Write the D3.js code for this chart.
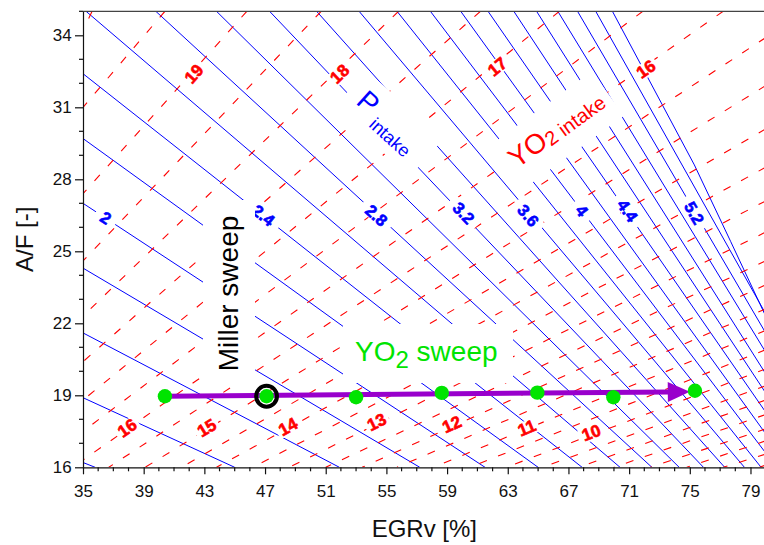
<!DOCTYPE html>
<html><head><meta charset="utf-8">
<script src="https://cdn.jsdelivr.net/npm/d3@7"></script>
<style>
html,body{margin:0;padding:0;background:#fff;}
svg{display:block;font-family:"Liberation Sans",Arial,sans-serif;}
</style></head><body>
<svg id="chart" width="764" height="545"></svg>
<script>
// ---------- data ----------
const egrTicks = [35,39,43,47,51,55,59,63,67,71,75,79];
const afTicks  = [16,19,22,25,28,31,34];

// P intake contours (solid blue), each line as [EGRv, A/F] points
const pLevels = [1.2,1.4,1.6,1.8,2.0,2.2,2.4,2.6,2.8,3.0,3.2,3.4,3.6,3.8,4.0,4.2,4.4,4.6,4.8,5.0,5.2,5.4,5.6];
const pLines = [
  [[35,16.2],[35.8,16]],
  [[35,18.9],[45.0,16]],
  [[35,21.6],[51.9,16]],
  [[35,24.3],[57.2,16]],
  [[35,27.0],[61.5,16]],
  [[35,29.7],[65.0,16]],
  [[35,32.4],[67.9,16]],
  [[35.2,35],[70.4,16]],
  [[39.8,35],[72.5,16]],
  [[43.8,35],[74.3,16]],
  [[47.3,35],[75.9,16]],
  [[50.4,35],[77.3,16]],
  [[53.2,35],[78.6,16]],
  [[55.7,35],[79.7,16]],
  [[57.9,35],[80,16.6]],
  [[59.9,35],[80,17.4]],
  [[61.7,35],[80,18.3]],
  [[63.4,35],[80,19.1]],
  [[64.9,35],[80,19.9]],
  [[66.3,35],[80,20.8]],
  [[67.6,35],[80,21.6]],
  [[68.8,35],[80,22.4]],
  [[69.9,35],[75.3,28.6],[77.7,25.4],[80,22.3]]
];
const pLabelText = ["2","2.4","2.8","3.2","3.6","4","4.4","5.2"];
const pLabelLevel = [2.0,2.4,2.8,3.2,3.6,4.0,4.4,5.2];
const pLabelPos = [[36.5,26.4],[46.9,26.5],[54.35,26.5],[60.1,26.6],[64.35,26.5],[67.9,26.7],[70.9,26.7],[75.3,26.6]];

// YO2 intake contours (dashed red), each line from upper/right end to lower/left end
const yLevels = [20,19.5,19,18.5,18,17.5,17,16.5,16,15.5,15,14.5,14,13.5,13,12.5,12,11.5,11,10.5,10,9.5,9,8.5,8,7.5,7,6.5];
const yLines = [
  [[35.6,35],[35,34.2]],
  [[40.4,35],[35,31.0]],
  [[45.8,35],[35,27.4]],
  [[50.7,35],[35,24.6]],
  [[55.8,35],[35,22.3]],
  [[61.2,35],[35,20.4]],
  [[66.4,35],[35,18.8]],
  [[71.9,35],[35,17.5]],
  [[77.2,35],[35,16.3]],
  [[80,33.9],[36.7,16]],
  [[80,31.9],[39.1,16]],
  [[80,30.1],[41.5,16]],
  [[80,28.5],[43.8,16]],
  [[80,27.1],[46.2,16]],
  [[80,25.8],[48.6,16]],
  [[80,24.6],[51.0,16]],
  [[80,23.6],[53.4,16]],
  [[80,22.6],[55.7,16]],
  [[80,21.7],[58.1,16]],
  [[80,20.9],[60.5,16]],
  [[80,20.1],[62.9,16]],
  [[80,19.4],[65.3,16]],
  [[80,18.8],[67.7,16]],
  [[80,18.2],[70.0,16]],
  [[80,17.6],[72.4,16]],
  [[80,17.1],[74.8,16]],
  [[80,16.55],[77.2,16]],
  [[80,16.1],[79.6,16]]
];
const yLabelText  = ["19","18","17","16","16","15","14","13","12","11","10"];
const yLabelLevel = [19,18,17,16,16,15,14,13,12,11,10];
const yLabelPos = [[42.3,32.4],[51.9,32.4],[62.3,32.7],[72.1,32.6],
                   [37.9,17.65],[43.15,17.65],[48.5,17.7],[54.35,17.9],[59.3,17.8],[64.25,17.65],[68.5,17.45]];

// sweep points
const sweepEGR = [40.4,47.1,53.0,58.65,64.95,69.96,75.34];
const sweepAF  = [18.96,18.96,18.92,19.1,19.11,18.92,19.19];
const millerPoint = [47.1,18.96];
const arrowStart = [40.4,18.96];
const arrowEnd   = [75.0,19.15];

// ---------- drawing ----------
const svg = d3.select("#chart");
const L = 83, R = 765.65, T = 11.3, B = 467.3;
const x = d3.scaleLinear().domain([35,80]).range([L,R]);
const y = d3.scaleLinear().domain([16,35]).range([B,T]);
const BLUE = "#0000ff", RED = "#ff0000", GREEN = "#00e400", PURPLE = "#9900cc";

svg.append("defs").append("clipPath").attr("id","plotclip")
  .append("rect").attr("x",L).attr("y",T).attr("width",R-L).attr("height",B-T);

const plot = svg.append("g").attr("clip-path","url(#plotclip)");
const line = d3.line().x(d=>x(d[0])).y(d=>y(d[1]));

plot.append("g").selectAll("path").data(pLines).join("path")
  .attr("d", line).attr("fill","none").attr("stroke",BLUE).attr("stroke-width",1);

plot.append("g").selectAll("path").data(yLines).join("path")
  .attr("d", line).attr("fill","none").attr("stroke",RED).attr("stroke-width",1.1)
  .attr("stroke-dasharray","8,12");

// angle helper in screen space
function angleOf(pts){
  const a = pts[0], b = pts[pts.length-1];
  let dx = x(b[0])-x(a[0]), dy = y(b[1])-y(a[1]);
  if (dx < 0){ dx = -dx; dy = -dy; }
  return Math.atan2(dy,dx)*180/Math.PI;
}

function contourLabel(txt, pos, ang, color, size, padA, padP){
  const g = plot.append("g").attr("transform",`translate(${x(pos[0])},${y(pos[1])}) rotate(${ang})`);
  const t = g.append("text").text(txt).attr("text-anchor","middle").attr("dy","0.36em")
    .attr("font-size",size).attr("font-weight","bold").attr("fill",color)
    .attr("stroke",color).attr("stroke-width",0.6);
  const bb = t.node().getBBox();
  g.insert("rect","text").attr("x",bb.x-padA).attr("y",bb.y+padP).attr("width",bb.width+2*padA)
    .attr("height",bb.height-2*padP).attr("fill","#fff");
}

pLabelText.forEach((t,i)=>{
  const idx = pLevels.indexOf(pLabelLevel[i]);
  contourLabel(t, pLabelPos[i], angleOf(pLines[idx]), BLUE, 16.5, 7, 2);
});
yLabelText.forEach((t,i)=>{
  const idx = yLevels.indexOf(yLabelLevel[i]);
  contourLabel(t, yLabelPos[i], angleOf(yLines[idx]), RED, 17, 3, 2);
});

// big annotation labels with white boxes
// Miller sweep
plot.append("rect").attr("x",203).attr("y",200).attr("width",52).attr("height",186).attr("fill","#fff");
plot.append("text").attr("transform","translate(238,371.3) rotate(-90)")
  .attr("font-size",28).attr("fill","#000").text("Miller sweep");

// YO2 sweep
plot.append("rect").attr("x",343).attr("y",324).attr("width",170).attr("height",59).attr("fill","#fff");
const ys = plot.append("text").attr("x",355).attr("y",361).attr("font-size",28).attr("fill",GREEN);
ys.append("tspan").text("YO");
ys.append("tspan").attr("font-size",24).attr("dy",7).text("2");
ys.append("tspan").attr("dy",-7).text(" sweep");

// P intake
const pg = plot.append("g").attr("transform","translate(355,103) rotate(42)");
pg.append("rect").attr("x",-13).attr("y",-32).attr("width",103).attr("height",50).attr("fill","#fff");
const pt = pg.append("text").attr("fill",BLUE);
pt.append("tspan").attr("x",0).attr("y",0).attr("font-size",28).text("P");
pt.append("tspan").attr("x",25).attr("y",8.4).attr("font-size",18).text("intake");

// YO2 intake
const yg = plot.append("g").attr("transform","translate(517,169) rotate(-36)");
yg.append("rect").attr("x",-12).attr("y",-35).attr("width",130).attr("height",55).attr("fill","#fff");
const yt = yg.append("text").attr("fill",RED);
yt.append("tspan").attr("x",0).attr("y",0).attr("font-size",28).text("YO");
yt.append("tspan").attr("x",40.5).attr("y",2).attr("font-size",20).text("2 intake");

// arrow
const ax0 = x(arrowStart[0]), ay0 = y(arrowStart[1]);
const ax1 = x(arrowEnd[0]), ay1 = y(arrowEnd[1]);
const aang = Math.atan2(ay1-ay0, ax1-ax0);
const headL = 22, headW = 10;
const bx = ax1 - headL*Math.cos(aang), by = ay1 - headL*Math.sin(aang);
plot.append("line").attr("x1",ax0).attr("y1",ay0).attr("x2",bx+1).attr("y2",by)
  .attr("stroke",PURPLE).attr("stroke-width",5);
plot.append("path").attr("d",`M${ax1},${ay1}L${bx - headW*Math.sin(aang)},${by + headW*Math.cos(aang)}L${bx + headW*Math.sin(aang)},${by - headW*Math.cos(aang)}Z`)
  .attr("fill",PURPLE);

// sweep points
plot.append("g").selectAll("circle").data(sweepEGR).join("circle")
  .attr("cx",(d)=>x(d)).attr("cy",(d,i)=>y(sweepAF[i])).attr("r",7.2).attr("fill",GREEN);
plot.append("circle").attr("cx",x(millerPoint[0])).attr("cy",y(millerPoint[1])).attr("r",10.4)
  .attr("fill","none").attr("stroke","#000").attr("stroke-width",4);

// ---------- axes ----------
const frame = svg.append("g");
frame.append("line").attr("x1",L).attr("x2",R).attr("y1",T).attr("y2",T).attr("stroke","#444").attr("stroke-width",1.2);

const xAxis = d3.axisBottom(x).tickValues(egrTicks).tickSize(7).tickSizeOuter(0).tickPadding(10.7);
const gx = svg.append("g").attr("transform",`translate(0,${B})`).call(xAxis);
const yAxis = d3.axisLeft(y).tickValues(afTicks).tickSize(8).tickSizeOuter(0).tickPadding(3.3);
const gy = svg.append("g").attr("transform",`translate(${L},0)`).call(yAxis);
[gx,gy].forEach(g=>{
  g.select(".domain").attr("stroke","#111").attr("stroke-width",1.2);
  g.selectAll(".tick line").attr("stroke","#111").attr("stroke-width",1.2);
  g.selectAll(".tick text").attr("font-size",17).attr("fill","#111")
    .attr("font-family","'Liberation Sans',Arial,sans-serif");
});
gx.select(".domain").attr("d",`M${L},0.5H${R}`);
// minor ticks
const minorX = d3.range(35,81,1).filter(v=>!egrTicks.includes(v));
const minorY = d3.range(16,36,1).filter(v=>!afTicks.includes(v));
svg.append("g").selectAll("line").data(minorX).join("line")
  .attr("x1",d=>x(d)).attr("x2",d=>x(d)).attr("y1",B).attr("y2",B+4).attr("stroke","#111").attr("stroke-width",1.2);
svg.append("g").selectAll("line").data(minorY).join("line")
  .attr("y1",d=>y(d)).attr("y2",d=>y(d)).attr("x1",L).attr("x2",L-4).attr("stroke","#111").attr("stroke-width",1.2);

// axis titles
svg.append("text").attr("x",(L+R)/2).attr("y",536.5).attr("text-anchor","middle")
  .attr("font-size",24).attr("fill","#111").text("EGRv [%]");
svg.append("text").attr("transform",`translate(32.5,${(T+B)/2}) rotate(-90)`).attr("text-anchor","middle")
  .attr("font-size",24).attr("fill","#111").text("A/F [-]");
</script>
</body></html>
